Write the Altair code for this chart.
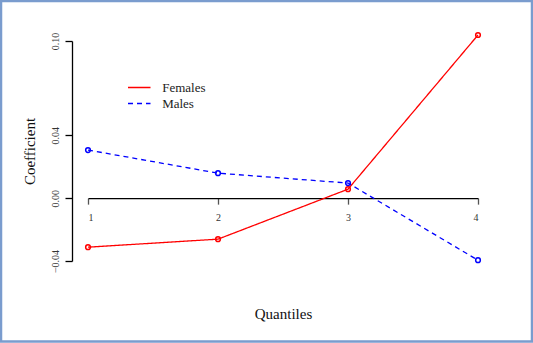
import altair as alt
import pandas as pd

quantiles = [1, 2, 3, 4]
females = [-0.0312, -0.0261, 0.0057, 0.1038]
males = [0.0306, 0.0159, 0.0096, -0.0395]
y_ticks = [-0.04, 0.00, 0.04, 0.10]
series_names = ["Females", "Males"]

rows = []
for q, v in zip(quantiles, females):
    rows.append({"Quantile": q, "Coefficient": v, "Group": "Females"})
for q, v in zip(quantiles, males):
    rows.append({"Quantile": q, "Coefficient": v, "Group": "Males"})
df = pd.DataFrame(rows)

FONT = "Liberation Serif"
W, H = 390, 220
PAD_L, PAD_T = 88, 41
TOTAL_W, TOTAL_H = 533, 343

x_scale = alt.Scale(domain=[1, 4], nice=False, zero=False)
y_scale = alt.Scale(domain=[-0.04, 0.10], nice=False, zero=False)
color_scale = alt.Scale(domain=series_names, range=["#ff0000", "#0000ff"])
dash_scale = alt.Scale(domain=series_names, range=[[1, 0], [5, 4]])

# offset that puts x axis at y = 0
zero_px = H * (0.10 - 0.0) / 0.14
x_offset = -(H - zero_px)

legend_def = dict(title=None, orient="none", legendX=42.75, legendY=38,
                  symbolType="M-1.5,0H1.5", symbolSize=225,
                  symbolStrokeWidth=1.3, labelFont=FONT,
                  labelFontSize=13, labelColor="#222222",
                  labelOffset=14.4, rowPadding=-1, padding=0)

base = alt.Chart(df)

lines = base.mark_line(strokeWidth=1.3).encode(
    x=alt.X("Quantile:Q", scale=x_scale,
            axis=alt.Axis(values=quantiles, format="d", title="Quantiles",
                          offset=x_offset, domainColor="black", domainWidth=1.3,
                          tickColor="#555555", tickSize=6, tickWidth=1.3,
                          labelPadding=8, labelFontSize=10, labelColor="#333333",
                          labelFont=FONT, titleFont=FONT, titleFontSize=15,
                          titleFontWeight="normal", titleColor="#111111",
                          titlePadding=84, grid=False)),
    y=alt.Y("Coefficient:Q", scale=y_scale,
            axis=alt.Axis(values=y_ticks, format=".2f", title="Coefficient",
                          offset=16, domainColor="black", domainWidth=1.3,
                          tickColor="black", tickSize=7, tickWidth=1.3,
                          labelAngle=270, labelAlign="center", labelBaseline="bottom",
                          labelPadding=5, labelFontSize=10, labelColor="#333333",
                          labelFont=FONT, titleFont=FONT, titleFontSize=15,
                          titleFontWeight="normal", titleColor="#111111",
                          titlePadding=13, grid=False)),
    color=alt.Color("Group:N", scale=color_scale, legend=alt.Legend(**legend_def)),
    strokeDash=alt.StrokeDash("Group:N", scale=dash_scale, legend=alt.Legend(**legend_def)),
)

points = base.mark_point(filled=False, size=22, strokeWidth=1.5, opacity=1).encode(
    x=alt.X("Quantile:Q", scale=x_scale),
    y=alt.Y("Coefficient:Q", scale=y_scale),
    color=alt.Color("Group:N", scale=color_scale, legend=None),
)

frame = alt.Chart(pd.DataFrame({"f": [0]})).mark_rect(
    fill=None, stroke="#7a9cce", strokeWidth=2.5
).encode(
    x=alt.value(-PAD_L + 1), x2=alt.value(TOTAL_W - PAD_L - 1),
    y=alt.value(-PAD_T + 1), y2=alt.value(TOTAL_H - PAD_T - 1.5),
)

chart = alt.layer(lines, points, frame).properties(
    width=W, height=H,
    autosize=alt.AutoSizeParams(type="none"),
    padding={"left": PAD_L, "top": PAD_T, "right": TOTAL_W - PAD_L - W, "bottom": TOTAL_H - PAD_T - H},
).configure(background="white").configure_view(strokeWidth=0, stroke=None)

chart.save("out.html", embed_options={"renderer": "svg", "actions": False})
